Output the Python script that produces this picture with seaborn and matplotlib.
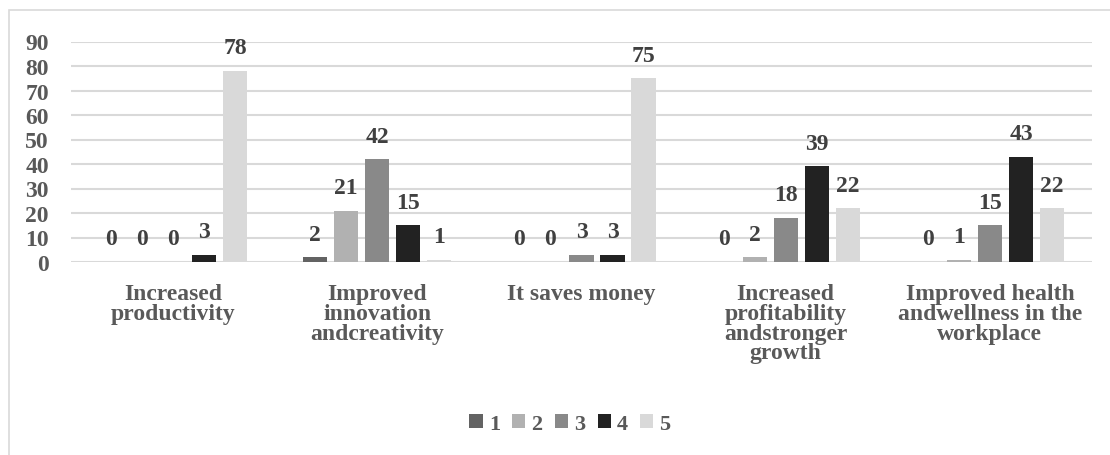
import matplotlib
matplotlib.use("Agg")
import matplotlib.pyplot as plt
from matplotlib.patches import Rectangle
import seaborn as sns
import pandas as pd

# Survey results: count of responses for each rating (1-5) per benefit
categories = [
    "Increased\nproductivity",
    "Improved\ninnovation\nandcreativity",
    "It saves money",
    "Increased\nprofitability\nandstronger\ngrowth",
    "Improved health\nandwellness in the\nworkplace",
]
ratings = ["1", "2", "3", "4", "5"]
rating_1 = [0, 2, 0, 0, 0]
rating_2 = [0, 21, 0, 2, 1]
rating_3 = [0, 42, 3, 18, 15]
rating_4 = [3, 15, 3, 39, 43]
rating_5 = [78, 1, 75, 22, 22]
y_ticks = [0, 10, 20, 30, 40, 50, 60, 70, 80, 90]

series = [rating_1, rating_2, rating_3, rating_4, rating_5]
rows = []
for r, vals in zip(ratings, series):
    for c, v in zip(categories, vals):
        rows.append({"Benefit": c, "Rating": r, "Count": v})
df = pd.DataFrame(rows)

palette = ["#636363", "#b1b1b1", "#898989", "#222222", "#d9d9d9"]

sns.set_theme(style="white")
plt.rcParams["font.family"] = ["Liberation Serif", "DejaVu Serif"]
plt.rcParams["font.weight"] = "bold"

fig = plt.figure(figsize=(11.1, 4.56), dpi=100)
ax = fig.add_axes([71 / 1110, 1 - 263 / 456, (1092 - 71) / 1110, (263 - 42.5) / 456])

sns.barplot(
    data=df, x="Benefit", y="Count", hue="Rating", hue_order=ratings,
    palette=palette, width=0.76, gap=0.22, saturation=1, ax=ax,
    errorbar=None, legend=True, linewidth=0,
)

ax.set_ylim(0, 90)
ax.set_xlim(-0.5, len(categories) - 0.5)
ax.set_yticks(y_ticks)
ax.set_yticklabels([str(t) for t in y_ticks])
ax.grid(axis="y", color="#d9d9d9", linewidth=1.5)
ax.set_axisbelow(True)
for s in ax.spines.values():
    s.set_visible(False)
ax.set_xlabel("")
ax.set_ylabel("")
ax.tick_params(axis="y", length=0, pad=16, labelsize=17, labelcolor="#595959")
ax.tick_params(axis="x", length=0, pad=15, labelsize=17, labelcolor="#595959")
for lbl in ax.get_xticklabels() + ax.get_yticklabels():
    lbl.set_fontweight("bold")
    lbl.set_linespacing(0.93)

# value labels above every bar
for cont in ax.containers:
    ax.bar_label(cont, fmt="%d", padding=9, fontsize=17, fontweight="bold",
                 color="#404040")

leg = ax.legend(
    loc="center", bbox_to_anchor=((570 - 71) / (1092 - 71), (263 - 425) / (263 - 42.5)),
    ncol=5, frameon=False, fontsize=16, handlelength=0.6, handleheight=0.6,
    handletextpad=0.27, columnspacing=0.55, borderpad=0.2,
)
for t in leg.get_texts():
    t.set_color("#595959")
    t.set_fontweight("bold")

# thin outer frame around the chart
fig.patches.append(Rectangle((9 / 1110, -0.05), 1.1, 1 - 11 / 456 + 0.05,
                             transform=fig.transFigure, fill=False,
                             edgecolor="#d9d9d9", linewidth=1.2))

fig.savefig("out.png", dpi=100)
